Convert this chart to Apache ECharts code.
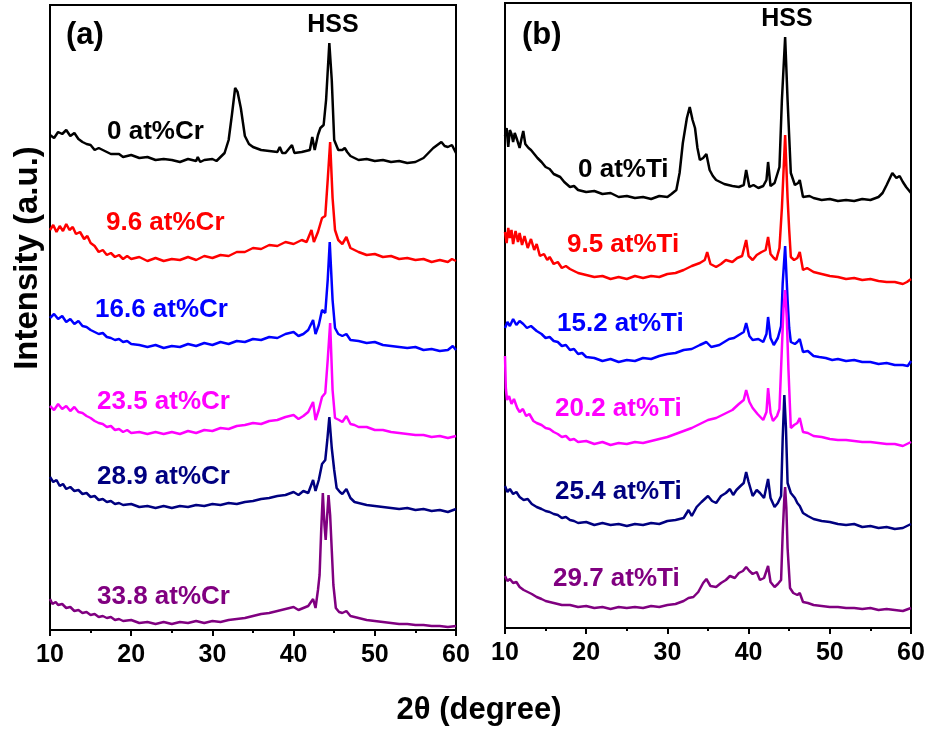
<!DOCTYPE html>
<html>
<head>
<meta charset="utf-8">
<script src="https://cdn.jsdelivr.net/npm/echarts@6/dist/echarts.min.js"></script>
<style>html,body{margin:0;padding:0;background:#fff}#c{width:932px;height:733px}</style>
</head>
<body>
<div id="c"></div>
<script>
// x ticks
const xTicks = [10, 20, 30, 40, 50, 60];
const crLabels = ['0 at%Cr', '9.6 at%Cr', '16.6 at%Cr', '23.5 at%Cr', '28.9 at%Cr', '33.8 at%Cr'];
const tiLabels = ['0 at%Ti', '9.5 at%Ti', '15.2 at%Ti', '20.2 at%Ti', '25.4 at%Ti', '29.7 at%Ti'];
const colors = ['#000000', '#ff0000', '#0000ff', '#ff00ff', '#000080', '#800080'];

// panel (a): [2theta, intensity (offset, a.u.)]
const cr0 = [[10,495],[10.5,492],[11,498],[11.5,496],[12,500],[12.5,494],[13,497],[13.5,491],[14,488],[14.5,486],[15,485],[15.5,480],[16,482],[17,478],[17.5,476],[18.5,476],[19,473],[20,475],[21,472],[22,473],[23,470],[24,471],[25,470],[26,468],[27,471],[28,469],[28.2,473],[28.5,468],[29,470],[30,471],[30.5,469],[31,473],[31.5,477],[32,490],[32.4,515],[32.8,542],[33.1,538],[33.5,522],[34,494],[34.5,486],[35,483],[36,480],[37,479],[38,478],[38.3,483],[38.6,477],[39,477],[39.8,485],[40.1,477],[41,478],[42,480],[42.3,493],[42.6,480],[43,495],[43.3,502],[43.7,505],[44,530],[44.4,587],[44.7,550],[45,490],[45.5,480],[46,480],[46.3,482],[46.6,478],[47,474],[48,470],[49,471],[50,469],[51,470],[52,468],[53,469],[54,467],[55,468],[56,472],[57.2,482],[58.2,488],[58.6,484],[59,483],[59.5,485],[60,477]];
const cr96 = [[10,400],[10.4,405],[10.8,398],[11.2,404],[11.6,399],[12,406],[12.4,400],[12.8,403],[13.2,396],[13.7,398],[14.2,391],[14.6,394],[15,387],[15.5,384],[16,378],[16.5,380],[17,375],[17.5,377],[18,373],[18.5,375],[19,371],[19.5,374],[20,371],[21,373],[22,369],[23,372],[24,369],[25,371],[26,370],[27,373],[28,370],[29,374],[30,372],[31,375],[32,374],[33,378],[34,378],[35,382],[36,381],[37,385],[38,384],[39,388],[40,386],[41,390],[41.6,388],[42.2,400],[42.5,388],[43,398],[43.5,412],[43.9,414],[44.2,450],[44.5,488],[44.8,432],[45.1,400],[45.5,390],[46,386],[46.5,393],[47,382],[47.5,380],[48,378],[49,375],[50,376],[51,373],[52,374],[53,371],[54,372],[55,370],[56,371],[57,368],[58,370],[59,368],[59.5,371],[60,369]];
const cr166 = [[10,312],[10.5,316],[11,311],[11.5,314],[12,308],[12.5,311],[13,306],[13.5,309],[14,304],[14.5,303],[15,300],[15.5,298],[16,296],[16.5,297],[17,293],[17.5,292],[18,290],[18.5,291],[19,288],[19.5,289],[20,286],[21,285],[22,283],[23,285],[24,282],[25,284],[26,283],[27,286],[28,284],[29,287],[30,285],[31,288],[32,286],[33,289],[34,288],[35,291],[36,290],[37,293],[38,292],[39,296],[40,298],[40.6,294],[41.2,296],[41.8,300],[42.4,310],[42.7,296],[43.1,305],[43.5,320],[43.9,317],[44.2,350],[44.45,388],[44.8,330],[45.1,302],[45.5,296],[46,294],[46.5,296],[47,290],[48,289],[49,287],[50,288],[51,285],[52,284],[53,283],[54,282],[55,283],[56,280],[57,281],[58,279],[59,280],[59.6,284],[60,280]];
const cr235 = [[10,224],[10.5,220],[11,226],[11.5,221],[12,224],[12.5,219],[13,223],[13.5,218],[14,217],[14.5,214],[15,212],[15.5,209],[16,207],[16.5,206],[17,203],[17.5,204],[18,200],[18.5,201],[19,198],[19.5,200],[20,197],[21,198],[22,196],[23,198],[24,196],[25,198],[26,196],[27,199],[28,197],[29,200],[30,199],[31,202],[32,201],[33,204],[34,205],[35,207],[36,206],[37,209],[38,210],[39,213],[40,215],[40.6,211],[41.2,214],[41.8,218],[42.4,228],[42.7,210],[43.1,220],[43.5,233],[43.9,237],[44.2,270],[44.5,307],[44.8,240],[45.1,212],[45.6,210],[46,208],[46.5,214],[47,206],[47.5,205],[48,203],[49,203],[50,200],[51,200],[52,198],[53,197],[54,196],[55,195],[56,195],[57,193],[58,194],[59,192],[60,194]];
const cr289 = [[10,153],[10.4,148],[10.8,150],[11.2,144],[11.6,146],[12,141],[12.5,143],[13,139],[13.5,140],[14,136],[14.5,137],[15,133],[15.5,134],[16,130],[16.5,131],[17,128],[17.5,129],[18,126],[18.5,127],[19,125],[20,126],[21,123],[22,124],[23,122],[24,124],[25,122],[26,124],[27,123],[28,125],[29,124],[30,126],[31,125],[32,127],[33,126],[34,128],[35,129],[36,131],[37,132],[38,134],[39,135],[40,138],[40.6,135],[41.2,139],[41.8,137],[42.4,150],[42.7,139],[43.1,150],[43.5,166],[43.9,170],[44.15,190],[44.4,213],[44.7,182],[45,160],[45.3,142],[45.7,138],[46,136],[46.5,141],[47,132],[47.5,128],[48,127],[49,125],[50,124],[51,123],[52,122],[53,121],[54,122],[55,120],[56,121],[57,119],[58,120],[59,118],[60,121]];
const cr338 = [[10,31],[10.3,26],[10.7,28],[11,25],[11.5,26],[12,22],[12.5,23],[13,19],[13.5,20],[14,17],[14.5,18],[15,15],[15.5,16],[16,13],[16.5,14],[17,12],[17.5,13],[18,10],[18.5,11],[19,9],[20,10],[21,7],[22,8],[23,6],[24,8],[25,6],[26,8],[27,7],[28,9],[29,7],[30,9],[31,8],[32,10],[33,11],[34,12],[35,14],[36,16],[37,17],[38,19],[39,21],[40,23],[40.6,20],[41.2,22],[41.8,24],[42.4,31],[42.7,22],[43,40],[43.2,55],[43.4,100],[43.6,137],[43.8,105],[43.95,90],[44.1,110],[44.3,135],[44.5,115],[44.7,80],[44.9,45],[45.2,22],[45.6,18],[46,17],[46.5,19],[47,14],[47.5,13],[48,12],[49,10],[50,9],[51,8],[52,7],[53,6],[54,6],[55,5],[56,5],[57,4],[58,4],[59,3],[60,4]];

// panel (b)
const ti0 = [[10,492],[10.2,500],[10.4,481],[10.6,498],[10.8,494],[11,486],[11.2,495],[11.5,488],[11.8,480],[12.05,490],[12.25,497],[12.5,484],[12.9,480],[13.2,478],[13.5,475],[14,470],[14.5,466],[15,461],[15.5,459],[16,454],[16.8,451],[17.3,446],[18,441],[18.5,442],[19,438],[20,436],[21,437],[22,434],[23,435],[24,431],[25,432],[26,430],[27,431],[28,429],[29,432],[30,431],[30.5,434],[31.1,438],[31.5,455],[31.9,485],[32.4,510],[32.75,521],[33.1,508],[33.4,500],[33.7,480],[34,468],[34.4,470],[34.8,474],[35.2,458],[35.6,452],[36,448],[37,444],[38,442],[38.8,441],[39.4,443],[39.7,458],[40.1,441],[40.6,443],[41.2,440],[41.8,442],[42.2,448],[42.4,466],[42.7,442],[43.2,445],[43.8,461],[44.1,528],[44.5,591],[44.8,528],[45.2,455],[45.7,443],[46.1,445],[46.3,448],[46.7,431],[47.5,432],[48,430],[49,428],[50,429],[51,427],[52,428],[53,427],[54,429],[55,428],[56,431],[56.5,435],[57,443],[57.7,455],[58.2,450],[58.6,452],[59,446],[59.4,441],[60,435]];
const ti95 = [[10,396],[10.2,385],[10.4,400],[10.6,390],[10.8,398],[11,384],[11.3,397],[11.6,386],[11.8,395],[12.1,383],[12.4,392],[12.8,380],[13.2,389],[13.6,378],[13.9,384],[14.3,372],[14.8,374],[15.2,368],[15.5,371],[16,364],[16.5,366],[17,360],[17.5,362],[18,359],[18.5,357],[19,355],[20,353],[21,351],[22,352],[23,349],[24,351],[25,349],[26,352],[27,350],[28,352],[29,351],[30,354],[31,355],[32,358],[33,362],[34,365],[34.6,368],[34.9,376],[35.3,364],[36,361],[36.6,364],[37.2,368],[38,366],[38.6,370],[39.2,372],[39.7,388],[40,372],[40.5,368],[41,373],[41.6,376],[42.1,378],[42.4,391],[42.7,374],[43.1,370],[43.4,368],[43.8,380],[44.1,420],[44.5,493],[44.8,430],[45,398],[45.2,371],[45.6,368],[46,370],[46.3,376],[46.7,358],[47.2,360],[48,356],[49,354],[50,352],[51,351],[52,349],[53,350],[54,348],[55,349],[56,347],[57,346],[58,346],[59,344],[59.5,346],[60,349]];
const ti152 = [[10,300],[10.3,306],[10.6,302],[11,309],[11.4,303],[11.8,307],[12.25,304],[12.7,300],[13.2,302],[13.9,297],[14.5,294],[15,290],[15.5,291],[16,287],[16.5,286],[17,282],[17.5,283],[18,278],[18.5,279],[19,274],[19.5,275],[20,271],[21,270],[22,267],[23,269],[24,266],[25,268],[26,267],[27,270],[28,269],[29,272],[30,274],[31,275],[32,278],[33,279],[34,283],[34.8,286],[35.4,281],[36.4,283],[37,286],[37.6,289],[38.2,290],[38.8,293],[39.4,296],[39.7,305],[40.1,292],[40.5,288],[41.2,289],[41.8,286],[42.2,294],[42.4,311],[42.7,290],[43.1,283],[43.6,290],[44,302],[44.2,345],[44.5,382],[44.8,328],[45,300],[45.2,286],[45.7,284],[46,286],[46.3,289],[46.7,276],[47.3,277],[48,272],[48.7,271],[49.5,270],[50.3,268],[51,269],[52,267],[53,268],[54,266],[55,266],[56,264],[57,265],[58,263],[59,263],[59.6,262],[60,267]];
const ti202 = [[10,272],[10.1,240],[10.25,228],[10.5,232],[10.8,224],[11.1,229],[11.5,220],[11.8,216],[12.2,219],[12.6,212],[13,214],[13.5,207],[13.9,205],[14.5,203],[15,200],[15.5,199],[16,196],[16.5,194],[17,191],[17.5,192],[18,188],[18.5,189],[19,186],[20,187],[21,184],[22,186],[23,183],[24,185],[25,184],[26,186],[27,185],[28,187],[29,189],[30,191],[31,194],[32,197],[33,200],[34,204],[35,208],[36,210],[37,214],[38,218],[38.8,224],[39.4,228],[39.7,238],[40.1,226],[40.5,220],[41.1,214],[41.8,208],[42.2,216],[42.4,240],[42.7,215],[43,207],[43.5,212],[43.8,219],[44.1,280],[44.3,320],[44.5,338],[44.7,310],[44.9,260],[45.2,200],[45.6,203],[46,205],[46.3,210],[46.7,196],[47.3,195],[48,192],[49,191],[50,189],[51,188],[52,188],[53,187],[54,186],[55,186],[56,185],[57,184],[58,184],[59,182],[60,186]];
const ti254 = [[10,142],[10.3,136],[10.6,139],[11,134],[11.4,136],[11.8,131],[12.3,128],[12.8,129],[13.3,124],[13.9,121],[14.5,119],[15,117],[15.5,116],[16,114],[16.5,113],[17,110],[17.5,111],[18,108],[18.5,107],[19,105],[20,106],[21,103],[22,105],[23,103],[24,104],[25,102],[26,104],[27,103],[28,105],[29,104],[30,107],[31,108],[32,110],[32.6,118],[33,112],[33.6,121],[34.2,126],[35,132],[35.5,127],[36,125],[36.6,132],[37.2,135],[37.7,139],[38.1,133],[38.5,138],[39,142],[39.4,145],[39.7,156],[40,146],[40.5,132],[41,138],[41.4,135],[41.9,130],[42.4,149],[42.7,130],[43.2,121],[43.6,125],[44,132],[44.2,190],[44.4,233],[44.6,200],[44.8,145],[45.2,135],[45.7,130],[46,125],[46.3,122],[46.7,115],[47.3,112],[48,109],[49,107],[50,106],[51,104],[52,103],[53,104],[54,101],[55,102],[56,100],[57,101],[58,99],[59,100],[60,104]];
const ti297 = [[10,52],[10.3,47],[10.6,49],[11,45],[11.4,46],[11.8,41],[12.3,38],[12.8,36],[13.3,34],[13.9,31],[14.5,29],[15,27],[15.5,26],[16,25],[16.5,24],[17,23],[18,23],[19,21],[20,22],[21,20],[22,21],[23,19],[24,21],[25,20],[26,21],[27,20],[28,22],[29,21],[30,23],[31,24],[32,27],[32.6,30],[33.2,31],[33.8,36],[34.4,45],[34.8,49],[35.3,42],[36,41],[36.6,45],[37.2,48],[37.7,52],[38.3,50],[38.8,55],[39.3,57],[39.7,61],[40.1,57],[40.5,54],[41,56],[41.4,48],[41.9,50],[42.4,62],[42.7,46],[43.2,41],[43.6,44],[44,48],[44.2,95],[44.4,130],[44.5,141],[44.65,120],[44.8,80],[45.1,40],[45.5,35],[46,33],[46.3,35],[46.7,26],[47.3,25],[48,23],[49,22],[50,21],[51,21],[52,20],[53,20],[54,19],[55,20],[56,18],[57,19],[58,18],[59,17],[60,20]];

const crSeries = [cr0, cr96, cr166, cr235, cr289, cr338];
const tiSeries = [ti0, ti95, ti152, ti202, ti254, ti297];

const FONT = '"Liberation Sans", Arial, sans-serif';
const chart = echarts.init(document.getElementById('c'), null, {renderer: 'canvas'});

function xAxisDef(idx) {
  return {
    type: 'value', gridIndex: idx, min: xTicks[0], max: xTicks[xTicks.length - 1], interval: 10,
    axisLine: {show: true, onZero: false, lineStyle: {color: '#000', width: 2}},
    axisTick: {show: true, inside: false, length: 6, lineStyle: {color: '#000', width: 2}},
    minorTick: {show: true, splitNumber: 2, length: 3, lineStyle: {color: '#000', width: 2}},
    splitLine: {show: false},
    axisLabel: {color: '#000', fontSize: 25, fontWeight: 'bold', fontFamily: FONT, margin: 13}
  };
}
function yAxisDef(idx) {
  return {type: 'value', gridIndex: idx, min: 0, max: 625, show: false, splitLine: {show: false}};
}

const series = [];
crSeries.forEach((d, i) => series.push({
  name: crLabels[i], type: 'line', xAxisIndex: 0, yAxisIndex: 0, data: d,
  showSymbol: false, symbol: 'none', lineStyle: {color: colors[i], width: 2.5}, itemStyle: {color: colors[i]}
}));
tiSeries.forEach((d, i) => series.push({
  name: tiLabels[i], type: 'line', xAxisIndex: 1, yAxisIndex: 1, data: d,
  showSymbol: false, symbol: 'none', lineStyle: {color: colors[i], width: 2.5}, itemStyle: {color: colors[i]}
}));

function txt(text, x, y, size, color, align, rot) {
  return {
    type: 'text', x: x, y: y, rotation: rot || 0, z: 100,
    style: {text: text, fill: color, font: 'bold ' + size + 'px ' + FONT,
      textAlign: align || 'left', textVerticalAlign: 'middle'}
  };
}
const crPos = [[107,132],[106,223],[95,310],[97,402],[97,477],[97,597]];
const tiPos = [[578,170],[567,245],[557,324],[555,409],[555,492],[553,579]];
const graphics = [
  txt('(a)', 66, 35, 31, '#000'),
  txt('(b)', 522, 35, 31, '#000'),
  txt('HSS', 333, 25, 25, '#000', 'center'),
  txt('HSS', 787, 19, 25, '#000', 'center'),
  txt('2θ (degree)', 479, 710, 31, '#000', 'center'),
  txt('Intensity (a.u.)', 28, 258, 33, '#000', 'center', Math.PI / 2)
];
crLabels.forEach((t, i) => graphics.push(txt(t, crPos[i][0], crPos[i][1], 26, colors[i])));
tiLabels.forEach((t, i) => graphics.push(txt(t, tiPos[i][0], tiPos[i][1], 26, colors[i])));

chart.setOption({
  animation: false,
  backgroundColor: '#fff',
  grid: [
    {left: 50, top: 5, width: 406, height: 625, show: true, borderColor: '#000', borderWidth: 2, backgroundColor: 'transparent'},
    {left: 505, top: 3, width: 406, height: 625, show: true, borderColor: '#000', borderWidth: 2, backgroundColor: 'transparent'}
  ],
  xAxis: [xAxisDef(0), xAxisDef(1)],
  yAxis: [yAxisDef(0), yAxisDef(1)],
  series: series,
  graphic: graphics
});
</script>
</body>
</html>
